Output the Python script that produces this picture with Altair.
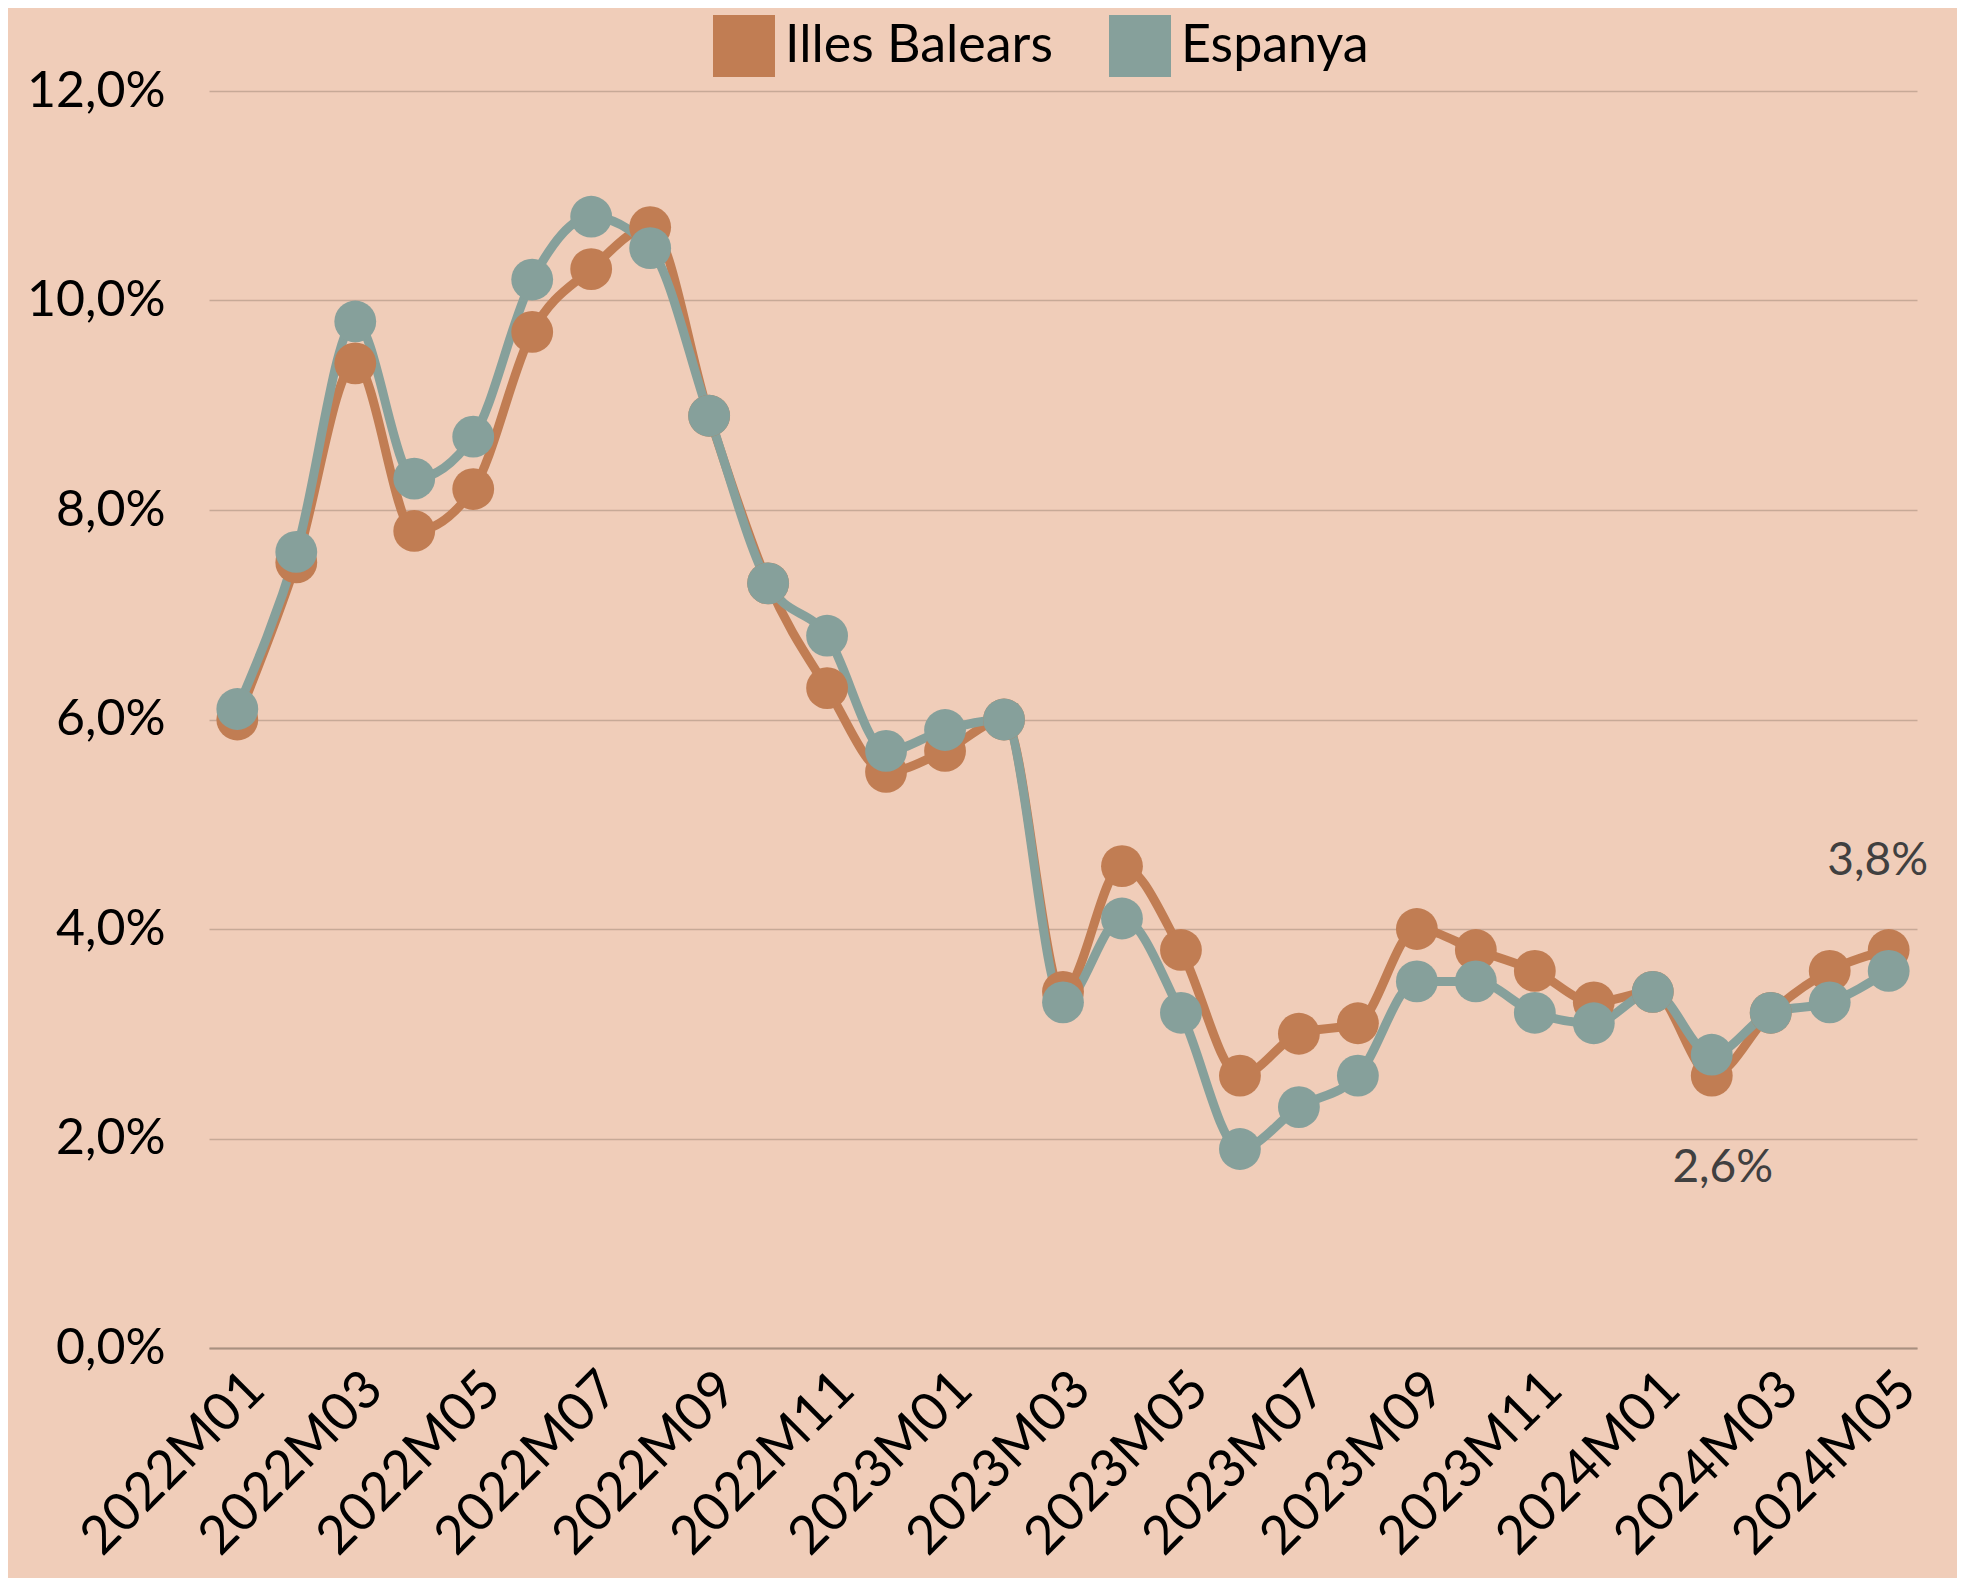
import altair as alt
import pandas as pd

months = [
    "2022M01", "2022M02", "2022M03", "2022M04", "2022M05", "2022M06", "2022M07",
    "2022M08", "2022M09", "2022M10", "2022M11", "2022M12",
    "2023M01", "2023M02", "2023M03", "2023M04", "2023M05", "2023M06", "2023M07",
    "2023M08", "2023M09", "2023M10", "2023M11", "2023M12",
    "2024M01", "2024M02", "2024M03", "2024M04", "2024M05",
]
balears = [6.0, 7.5, 9.4, 7.8, 8.2, 9.7, 10.3, 10.7, 8.9, 7.3, 6.3, 5.5,
           5.7, 6.0, 3.4, 4.6, 3.8, 2.6, 3.0, 3.1, 4.0, 3.8, 3.6, 3.3,
           3.4, 2.6, 3.2, 3.6, 3.8]
espanya = [6.1, 7.6, 9.8, 8.3, 8.7, 10.2, 10.8, 10.5, 8.9, 7.3, 6.8, 5.7,
           5.9, 6.0, 3.3, 4.1, 3.2, 1.9, 2.3, 2.6, 3.5, 3.5, 3.2, 3.1,
           3.4, 2.8, 3.2, 3.3, 3.6]
series_names = ["Illes Balears", "Espanya"]
series_colors = ["#C17D53", "#86A09B"]

y_ticks = [0, 2, 4, 6, 8, 10, 12]
x_ticks = months[::2]

# annotation values
ann_top = {"month": ["2024M05"], "value": [3.8], "label": ["3,8%"]}
ann_bot = {"month": ["2024M02"], "value": [2.6], "label": ["2,6%"]}

rows = []
for name, vals in zip(series_names, [balears, espanya]):
    for m, v in zip(months, vals):
        rows.append({"month": m, "value": v, "serie": name})
df = pd.DataFrame(rows)

FONT = "Lato"

x_scale = alt.Scale(type="point", domain=months, padding=0.48)
x_enc = alt.X(
    "month:O",
    sort=months,
    scale=x_scale,
    axis=alt.Axis(
        values=x_ticks, title=None, labelAngle=-45, labelFontSize=53,
        labelFont=FONT, labelColor="#000000", ticks=False, domain=True,
        domainColor="#A89080", domainWidth=2, labelPadding=14,
        grid=False, labelLimit=600,
    ),
)
y_enc = alt.Y(
    "value:Q",
    scale=alt.Scale(domain=[0, 12], nice=False, zero=True),
    axis=alt.Axis(
        values=y_ticks, title=None, labelFontSize=50, labelFont=FONT,
        labelColor="#000000", ticks=False, domain=False, grid=True,
        gridColor="#C7A997", gridWidth=1.5, labelPadding=44,
        labelExpr="replace(format(datum.value, '.1f'), '.', ',') + '%'",
    ),
)
color_scale = alt.Scale(domain=series_names, range=series_colors)
legend = alt.Legend(
    title=None, orient="none", legendX=504, legendY=-76,
    direction="horizontal", symbolType="square", symbolSize=3844,
    symbolStrokeWidth=0, symbolOpacity=1,
    labelFontSize=52, labelFont=FONT, labelColor="#000000", labelOffset=10,
    columnPadding=56, labelLimit=600,
)
color_enc = alt.Color("serie:N", scale=color_scale, sort=series_names, legend=legend)

lines = alt.Chart(df).mark_line(strokeWidth=9, interpolate="monotone").encode(
    x=x_enc, y=y_enc, color=color_enc,
)
points = alt.Chart(df).mark_circle(size=1750, opacity=1).encode(
    x=x_enc, y=y_enc, color=color_enc,
)

t1 = alt.Chart(pd.DataFrame(ann_top)).mark_text(
    fontSize=46, font=FONT, color="#404040", dx=-11, dy=-75, baseline="alphabetic"
).encode(x=alt.X("month:O", sort=months, scale=x_scale),
         y=alt.Y("value:Q"), text="label:N")
t2 = alt.Chart(pd.DataFrame(ann_bot)).mark_text(
    fontSize=46, font=FONT, color="#404040", dx=11, dy=106, baseline="alphabetic"
).encode(x=alt.X("month:O", sort=months, scale=x_scale),
         y=alt.Y("value:Q"), text="label:N")

chart = alt.layer(lines, points, t1, t2).properties(
    width=1708, height=1257,
    background="#F0CDB9",
    padding={"left": 201, "top": 83, "right": 40, "bottom": 230},
    autosize=alt.AutoSizeParams(type="none"),
).configure_view(stroke=None)

chart.save("out.html", embed_options={"renderer": "svg", "actions": False})
